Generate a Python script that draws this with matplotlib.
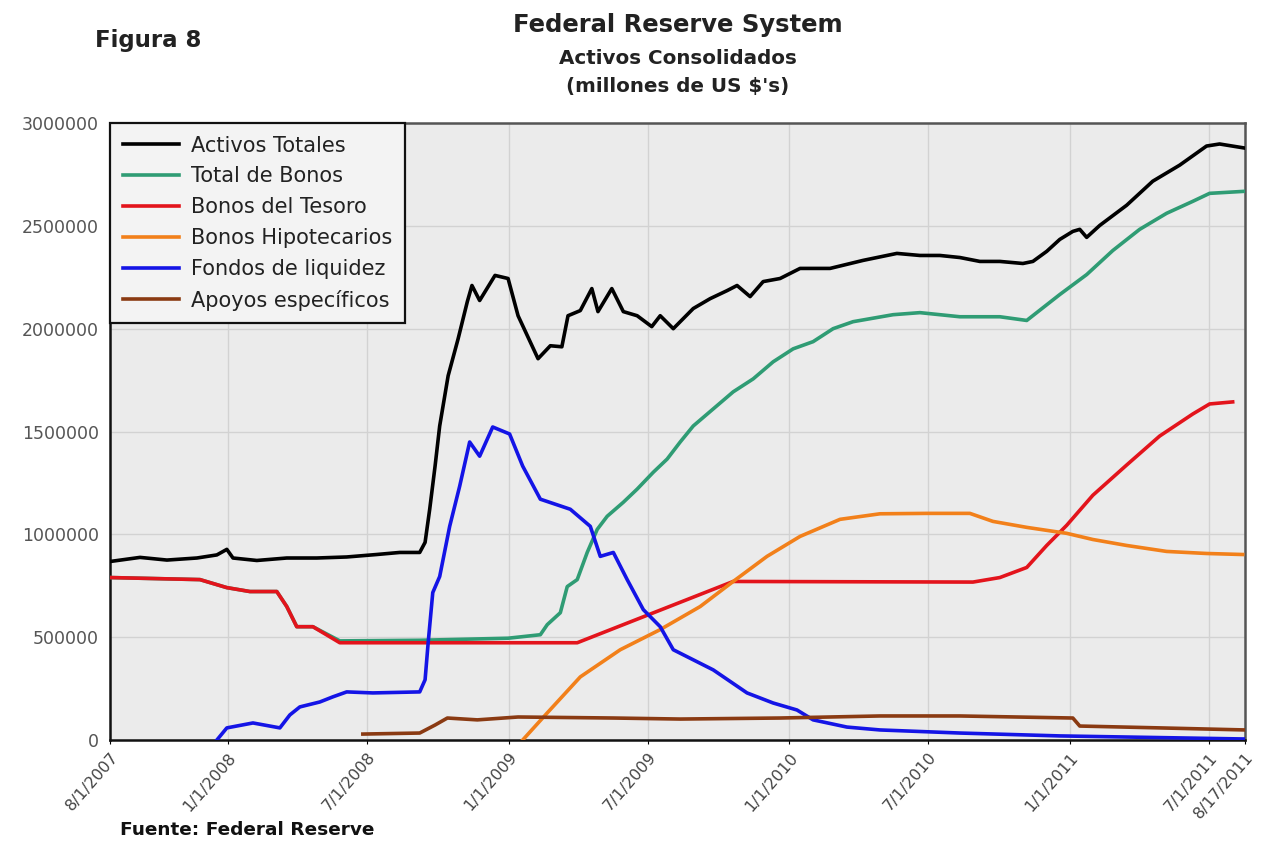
import matplotlib
matplotlib.use("Agg")
import matplotlib.pyplot as plt
import pandas as pd

plt.rcParams['font.family'] = ['DejaVu Sans']

# datos (millones de US$)
activos_fechas = ['2007-08-01', '2007-09-09', '2007-10-14', '2007-11-22', '2007-12-18', '2007-12-31',
                  '2008-01-08', '2008-02-08', '2008-03-18', '2008-04-26', '2008-06-04', '2008-07-13',
                  '2008-08-12', '2008-09-07', '2008-09-14', '2008-09-20', '2008-09-27', '2008-10-03',
                  '2008-10-14', '2008-10-27', '2008-11-08', '2008-11-14', '2008-11-24', '2008-12-14',
                  '2008-12-31', '2009-01-13', '2009-02-08', '2009-02-24', '2009-03-11', '2009-03-19',
                  '2009-04-04', '2009-04-19', '2009-04-27', '2009-05-15', '2009-05-30', '2009-06-17',
                  '2009-07-06', '2009-07-17', '2009-08-03', '2009-08-29', '2009-09-20', '2009-10-12',
                  '2009-10-25', '2009-11-11', '2009-11-28', '2009-12-20', '2010-01-15', '2010-02-23',
                  '2010-04-07', '2010-05-21', '2010-06-20', '2010-07-16', '2010-08-11', '2010-09-06',
                  '2010-10-02', '2010-11-01', '2010-11-14', '2010-12-02', '2010-12-19', '2011-01-05',
                  '2011-01-14', '2011-01-23', '2011-02-09', '2011-03-16', '2011-04-19', '2011-05-24',
                  '2011-06-28', '2011-07-15', '2011-08-17']
activos = [868000, 888000, 875000, 885000, 900000, 927000,
           885000, 873000, 885000, 885000, 890000, 902000,
           912000, 912000, 961000, 1122000, 1332000, 1527000,
           1771000, 1951000, 2132000, 2210000, 2137000, 2259000,
           2244000, 2063000, 1854000, 1917000, 1912000, 2063000,
           2088000, 2195000, 2083000, 2195000, 2083000, 2063000,
           2010000, 2063000, 2000000, 2098000, 2146000, 2185000,
           2210000, 2156000, 2229000, 2244000, 2293000, 2293000,
           2332000, 2366000, 2356000, 2356000, 2346000, 2327000,
           2327000, 2317000, 2327000, 2376000, 2434000, 2473000,
           2483000, 2444000, 2502000, 2600000, 2717000, 2795000,
           2888000, 2898000, 2878000]

bonos_fechas = ['2007-08-01', '2007-11-26', '2007-12-31', '2008-01-30', '2008-03-05', '2008-03-18',
                '2008-03-31', '2008-04-21', '2008-05-26', '2008-09-07', '2008-12-31', '2009-02-11',
                '2009-02-20', '2009-03-09', '2009-03-18', '2009-03-31', '2009-04-13', '2009-04-26',
                '2009-05-09', '2009-05-30', '2009-06-17', '2009-07-08', '2009-07-26', '2009-08-12',
                '2009-08-29', '2009-09-24', '2009-10-20', '2009-11-15', '2009-12-11', '2010-01-06',
                '2010-02-01', '2010-02-27', '2010-03-25', '2010-05-16', '2010-06-20', '2010-08-11',
                '2010-10-02', '2010-11-06', '2010-12-19', '2011-01-23', '2011-02-26', '2011-04-02',
                '2011-05-07', '2011-06-10', '2011-07-02', '2011-08-17']
bonos = [790000, 780000, 741000, 722000, 722000, 649000,
         551000, 551000, 482000, 485000, 495000, 512000,
         561000, 619000, 746000, 780000, 912000, 1024000,
         1088000, 1156000, 1220000, 1302000, 1366000, 1449000,
         1527000, 1610000, 1693000, 1756000, 1839000, 1902000,
         1937000, 2000000, 2034000, 2068000, 2078000, 2058000,
         2058000, 2040000, 2166000, 2263000, 2380000, 2483000,
         2561000, 2619000, 2658000, 2668000]

tesoro_fechas = ['2007-08-01', '2007-11-26', '2007-12-31', '2008-01-30', '2008-03-05', '2008-03-18',
                 '2008-03-31', '2008-04-21', '2008-05-26', '2009-03-31', '2009-10-20', '2010-08-28',
                 '2010-10-02', '2010-11-06', '2010-12-02', '2010-12-28', '2011-01-31', '2011-03-16',
                 '2011-04-28', '2011-06-10', '2011-07-02', '2011-08-01']
tesoro = [790000, 780000, 741000, 722000, 722000, 649000,
          551000, 551000, 473000, 473000, 771000, 768000,
          790000, 839000, 946000, 1044000, 1190000, 1337000,
          1478000, 1585000, 1634000, 1644000]

hipot_fechas = ['2009-01-19', '2009-02-20', '2009-04-04', '2009-05-26', '2009-07-17', '2009-09-07',
                '2009-10-20', '2009-12-03', '2010-01-15', '2010-03-08', '2010-04-29', '2010-06-29',
                '2010-08-24', '2010-09-23', '2010-11-06', '2010-12-28', '2011-01-31', '2011-03-16',
                '2011-05-07', '2011-06-28', '2011-08-14']
hipot = [0, 132000, 307000, 439000, 537000, 649000,
         771000, 893000, 990000, 1073000, 1100000, 1102000,
         1102000, 1063000, 1034000, 1005000, 975000, 946000,
         917000, 907000, 902000]

liquidez_fechas = ['2007-12-18', '2007-12-31', '2008-02-03', '2008-03-09', '2008-03-22',
                   '2008-04-04', '2008-04-30', '2008-05-17', '2008-06-04', '2008-07-08', '2008-09-07',
                   '2008-09-14', '2008-09-18', '2008-09-24', '2008-10-03', '2008-10-16', '2008-10-29',
                   '2008-11-11', '2008-11-24', '2008-12-11', '2009-01-02', '2009-01-19', '2009-02-11',
                   '2009-03-22', '2009-04-17', '2009-04-30', '2009-05-17', '2009-06-04', '2009-06-25',
                   '2009-07-17', '2009-08-03', '2009-08-29', '2009-09-24', '2009-11-07', '2009-12-11',
                   '2010-01-11', '2010-02-01', '2010-03-17', '2010-04-29', '2010-08-11', '2010-12-19',
                   '2011-08-17']
liquidez = [0, 59000, 83000, 59000, 122000,
            161000, 185000, 210000, 234000, 229000, 234000,
            293000, 473000, 717000, 795000, 1039000, 1234000,
            1449000, 1380000, 1522000, 1488000, 1332000, 1171000,
            1122000, 1039000, 893000, 912000, 780000, 634000,
            551000, 439000, 390000, 341000, 229000, 180000,
            146000, 98000, 63000, 49000, 34000, 20000,
            5000]

apoyos_fechas = ['2008-06-25', '2008-09-07', '2008-09-27', '2008-10-13', '2008-11-21', '2009-01-13',
                 '2009-05-17', '2009-08-12', '2009-12-20', '2010-04-29', '2010-08-11', '2011-01-05',
                 '2011-01-14', '2011-04-28', '2011-08-17']
apoyos = [29000, 34000, 73000, 107000, 98000, 112000,
          107000, 102000, 107000, 117000, 117000, 107000,
          68000, 59000, 49000]

xtick_fechas = ['2007-08-01', '2008-01-01', '2008-07-01', '2009-01-01', '2009-07-01',
                '2010-01-01', '2010-07-01', '2011-01-01', '2011-07-01', '2011-08-17']
xtick_labels = ['8/1/2007', '1/1/2008', '7/1/2008', '1/1/2009', '7/1/2009',
                '1/1/2010', '7/1/2010', '1/1/2011', '7/1/2011', '8/17/2011']
yticks = [0, 500000, 1000000, 1500000, 2000000, 2500000, 3000000]

series = [
    ('Activos Totales', activos_fechas, activos, '#000000'),
    ('Total de Bonos', bonos_fechas, bonos, '#2f9c74'),
    ('Bonos del Tesoro', tesoro_fechas, tesoro, '#e3141c'),
    ('Bonos Hipotecarios', hipot_fechas, hipot, '#f2801a'),
    ('Fondos de liquidez', liquidez_fechas, liquidez, '#1414e6'),
    ('Apoyos espec\u00edficos', apoyos_fechas, apoyos, '#8a3a12'),
]

fig = plt.figure(figsize=(12.62, 8.59), dpi=100)
ax = fig.add_axes([0.0872, 0.1385, 0.8993, 0.7183])
ax.set_facecolor('#ebebeb')

for i, (nombre, fechas, valores, color) in enumerate(series):
    ax.plot(pd.to_datetime(fechas), valores, color=color, lw=2.6, label=nombre, zorder=3 + i)

ax.set_xlim(pd.Timestamp('2007-08-01'), pd.Timestamp('2011-08-17'))
ax.set_ylim(0, 3000000)
ax.set_yticks(yticks)
ax.set_yticklabels([str(v) for v in yticks], color='#555555', fontsize=12.5)
ax.set_xticks(pd.to_datetime(xtick_fechas))
ax.set_xticklabels(xtick_labels, rotation=49, ha='right', rotation_mode='anchor',
                   color='#444444', fontsize=11.5)
ax.tick_params(axis='y', length=0, pad=8)
ax.tick_params(axis='x', length=3, pad=4)
ax.grid(True, color='#d2d2d2', lw=1)
ax.set_axisbelow(True)
for s in ['left', 'bottom']:
    ax.spines[s].set_color('#111111')
    ax.spines[s].set_linewidth(1.8)
for s in ['top', 'right']:
    ax.spines[s].set_color('#555555')
    ax.spines[s].set_linewidth(1.8)

leg = ax.legend(loc='upper left', borderaxespad=0, fontsize=15, handlelength=2.7,
                fancybox=False, edgecolor='#111111', facecolor='#f3f3f3', framealpha=1,
                labelspacing=0.52, borderpad=0.6, handletextpad=0.6)
leg.get_frame().set_linewidth(1.6)
leg.set_zorder(20)
for t in leg.get_texts():
    t.set_color('#222222')

fig.text(0.537, 0.971, 'Federal Reserve System', ha='center', va='center',
         fontsize=17.5, fontweight='bold', color='#222222')
fig.text(0.537, 0.932, 'Activos Consolidados', ha='center', va='center',
         fontsize=14.3, fontweight='bold', color='#222222')
fig.text(0.537, 0.899, "(millones de US $'s)", ha='center', va='center',
         fontsize=14.3, fontweight='bold', color='#222222')
fig.text(0.075, 0.953, 'Figura 8', ha='left', va='center',
         fontsize=16.5, fontweight='bold', color='#222222')
fig.text(0.095, 0.034, 'Fuente: Federal Reserve', ha='left', va='center',
         fontsize=13.3, fontweight='bold', color='#111111')

fig.savefig('out.png', dpi=100)
